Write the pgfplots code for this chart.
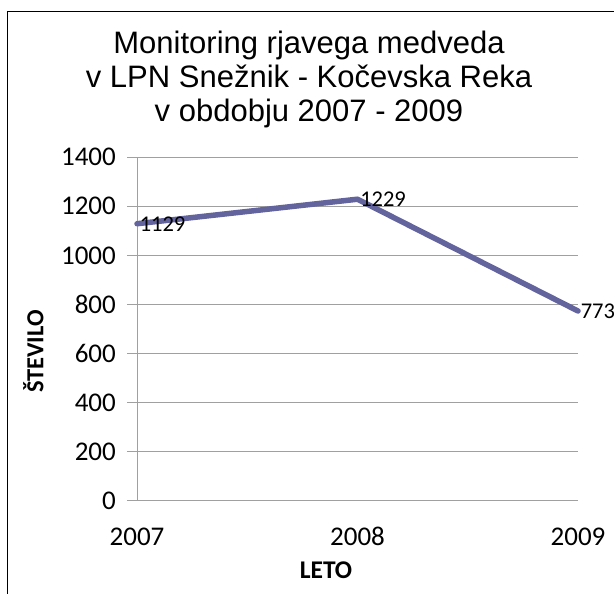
\documentclass[border=0pt]{standalone}
\usepackage{fontspec}
\setmainfont{Carlito}
\newfontfamily\titlefont{Liberation Sans}
\usepackage{pgfplots}
\pgfplotsset{compat=1.18}
\definecolor{serie}{RGB}{99,99,158}
\definecolor{gridc}{RGB}{160,160,160}
\begin{document}
\begin{tikzpicture}[x=1bp,y=1bp]
\path[use as bounding box] (0,0) rectangle (614,594);
\draw[black, line width=1.2bp] (7.3,0) -- (7.3,582.7) -- (614,582.7);
\node[font=\titlefont\fontsize{31bp}{34bp}\selectfont, anchor=base, inner sep=0pt] at (309,540.7) {Monitoring rjavega medveda};
\node[font=\titlefont\fontsize{31bp}{34bp}\selectfont, anchor=base, inner sep=0pt] at (309,506.5) {v LPN Snežnik - Kočevska Reka};
\node[font=\titlefont\fontsize{31bp}{34bp}\selectfont, anchor=base, inner sep=0pt] at (309,472.3) {v obdobju 2007 - 2009};
\node[font=\bfseries\fontsize{25.5bp}{28bp}\selectfont, anchor=base, inner sep=0pt] at (326,15.7) {LETO};
\node[font=\bfseries\fontsize{24.5bp}{28bp}\selectfont, anchor=base, inner sep=0pt, rotate=90] at (43.3,242.5) {ŠTEVILO};
\begin{axis}[
  at={(137bp,93.5bp)}, anchor=south west,
  scale only axis, width=441bp, height=343.2bp,
  xmin=2007, xmax=2009, ymin=0, ymax=1400,
  xtick={2007,2008,2009}, xticklabels={2007,2008,2009},
  ytick={0,200,400,600,800,1000,1200,1400},
  /pgf/number format/.cd, 1000 sep={}, assume math mode=true, /pgfplots/.cd,
  axis x line*=bottom, axis y line*=left,
  axis line style={gridc, line width=1bp, -},
  ymajorgrids, major grid style={gridc, line width=1bp},
  xtick style={draw=none},
  ytick style={gridc, line width=1bp},
  major tick length=10bp, tick align=outside,
  ticklabel style={font=\fontsize{27bp}{30bp}\selectfont, inner sep=0pt},
  yticklabel style={anchor=east, xshift=-11bp},
  xticklabel style={anchor=base, yshift=-35bp},
  clip=false,
  nodes near coords,
  every node near coord/.append style={anchor=west, inner sep=0pt, font=\fontsize{22.5bp}{25bp}\selectfont, black},
]
\addplot[serie, line width=5.5bp, line join=round, line cap=round, mark=none] coordinates {(2007,1129) (2008,1229) (2009,773)};
\end{axis}
\end{tikzpicture}
\end{document}
